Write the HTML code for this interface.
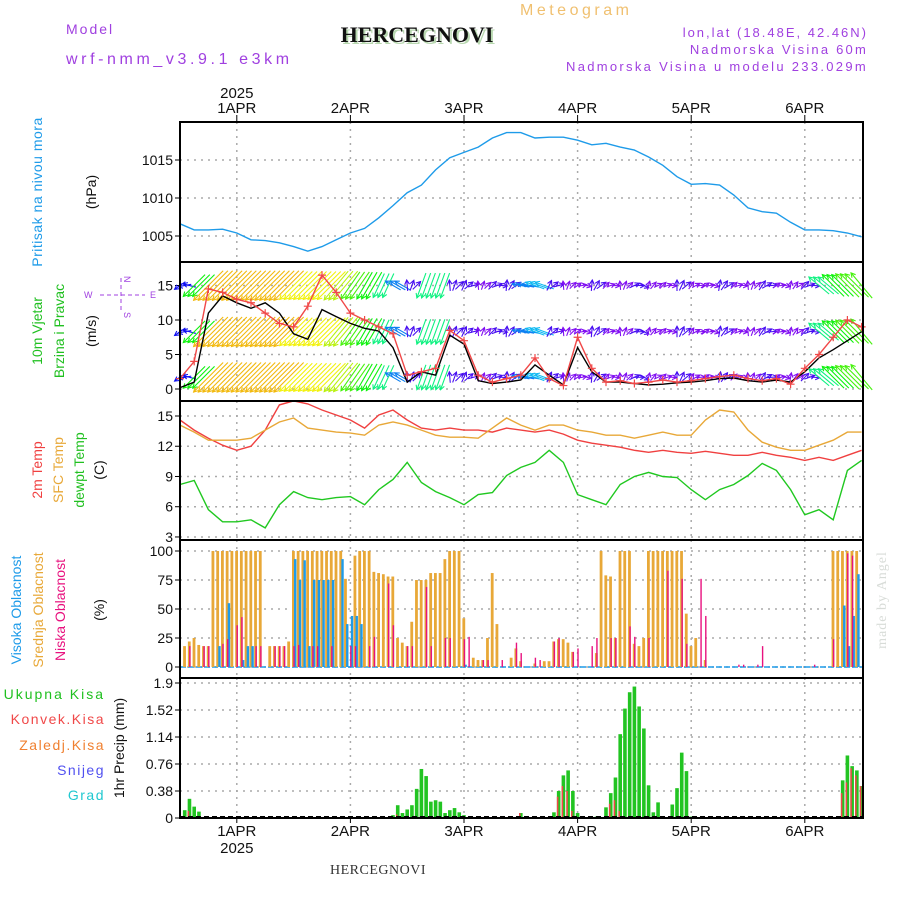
<!DOCTYPE html>
<html><head><meta charset="utf-8"><title>Meteogram HERCEGNOVI</title>
<style>
html,body{margin:0;padding:0;background:#fff;}
svg{display:block;font-family:"Liberation Sans",sans-serif;}
</style></head>
<body>
<svg id="chart" width="900" height="900" viewBox="0 0 900 900" xmlns="http://www.w3.org/2000/svg">
<text x="520" y="15" font-size="16" fill="#f0c070" letter-spacing="3.5">Meteogram</text>
<text x="66" y="34" font-size="14" fill="#a040e0" letter-spacing="2">Model</text>
<text x="66" y="64" font-size="16" fill="#a040e0" letter-spacing="3.6">wrf-nmm_v3.9.1 e3km</text>
<text x="419" y="44" font-size="22" font-weight="bold" font-family="Liberation Serif,serif" fill="#b8d8b0" text-anchor="middle">HERCEGNOVI</text>
<text x="417" y="42" font-size="22" font-weight="bold" font-family="Liberation Serif,serif" fill="#111" text-anchor="middle">HERCEGNOVI</text>
<text x="868" y="37" font-size="13" fill="#a040e0" text-anchor="end" letter-spacing="2">lon,lat (18.48E, 42.46N)</text>
<text x="868" y="54" font-size="13" fill="#a040e0" text-anchor="end" letter-spacing="2.2">Nadmorska Visina 60m</text>
<text x="868" y="71" font-size="13" fill="#a040e0" text-anchor="end" letter-spacing="2.3">Nadmorska Visina u modelu 233.029m</text>
<text x="330" y="874" font-size="14" font-family="Liberation Serif,serif" fill="#333" letter-spacing="0.5">HERCEGNOVI</text>
<text transform="translate(886,600) rotate(-90)" font-size="14" font-family="Liberation Serif,serif" fill="#d8dcd8" text-anchor="middle" letter-spacing="1">made by Angel</text>

<text transform="translate(42,192) rotate(-90)" font-size="14" fill="#1e9be9" text-anchor="middle" letter-spacing="0.5">Pritisak na nivou mora</text>
<text transform="translate(96,192) rotate(-90)" font-size="14" fill="#111" text-anchor="middle">(hPa)</text>

<text transform="translate(42,331) rotate(-90)" font-size="14" fill="#20c020" text-anchor="middle">10m Vjetar</text>
<text transform="translate(64,331) rotate(-90)" font-size="14" fill="#20c020" text-anchor="middle">Brzina i Pravac</text>
<text transform="translate(96,331) rotate(-90)" font-size="14" fill="#111" text-anchor="middle">(m/s)</text>
<g fill="#a040e0" font-size="9">
<text x="84" y="298">W</text>
<text x="150" y="298">E</text>
<text transform="translate(124,276) rotate(90)">N</text>
<text transform="translate(124,312) rotate(90)">S</text>
<line x1="100" y1="295" x2="145" y2="295" stroke="#a040e0" stroke-dasharray="4,3"/>
<line x1="121" y1="278" x2="121" y2="312" stroke="#a040e0" stroke-dasharray="4,3"/>
</g>

<text transform="translate(42,470) rotate(-90)" font-size="14" fill="#f04040" text-anchor="middle">2m Temp</text>
<text transform="translate(63,470) rotate(-90)" font-size="14" fill="#e8a838" text-anchor="middle">SFC Temp</text>
<text transform="translate(84,470) rotate(-90)" font-size="14" fill="#20c020" text-anchor="middle">dewpt Temp</text>
<text transform="translate(104,470) rotate(-90)" font-size="14" fill="#111" text-anchor="middle">(C)</text>

<text transform="translate(21,610) rotate(-90)" font-size="14" fill="#1e9be9" text-anchor="middle">Visoka Oblacnost</text>
<text transform="translate(43,610) rotate(-90)" font-size="14" fill="#e8a838" text-anchor="middle">Srednja Oblacnost</text>
<text transform="translate(65,610) rotate(-90)" font-size="14" fill="#e8127f" text-anchor="middle">Niska Oblacnost</text>
<text transform="translate(104,610) rotate(-90)" font-size="14" fill="#111" text-anchor="middle">(%)</text>

<text x="105" y="699" font-size="14" fill="#20c020" text-anchor="end" letter-spacing="2">Ukupna Kisa</text>
<text x="105" y="724" font-size="14" fill="#f04848" text-anchor="end" letter-spacing="1.5">Konvek.Kisa</text>
<text x="105" y="750" font-size="14" fill="#f08030" text-anchor="end" letter-spacing="1.5">Zaledj.Kisa</text>
<text x="105" y="775" font-size="14" fill="#5050f0" text-anchor="end" letter-spacing="1.5">Snijeg</text>
<text x="105" y="800" font-size="14" fill="#20c8d0" text-anchor="end" letter-spacing="1.5">Grad</text>
<text transform="translate(124,748) rotate(-90)" font-size="14" fill="#111" text-anchor="middle">1hr Precip (mm)</text>
</svg>
<script>
// ---------------- DATA ----------------
const dayLabels = ['1APR','2APR','3APR','4APR','5APR','6APR'];
const yearLabel = '2025';
// 3-hourly series starting Mar31 12Z
const pressure = [1006.6,1005.8,1005.8,1005.9,1005.4,1004.5,1004.4,1004.1,1003.6,1003.0,1003.6,1004.5,1005.4,1006.0,1007.4,1009.0,1010.7,1011.7,1013.7,1015.3,1016.0,1016.7,1017.9,1018.6,1018.6,1017.9,1018.0,1018.0,1017.6,1017.0,1017.2,1016.7,1016.3,1015.4,1014.3,1012.8,1011.8,1011.9,1011.7,1010.4,1008.7,1008.2,1008.0,1006.8,1005.8,1005.8,1005.7,1005.4,1004.9];
const pressureTicks = [1005,1010,1015];
const windSpeed = [0.2,1,11,13.5,12.5,11.7,12.5,11,8,7.2,11.5,10.5,9.5,8.8,8.4,6,1,2.5,2,7.8,6.5,1.2,0.8,1,1.3,3.5,2,0.6,6,2.5,1,1,0.8,0.6,0.7,0.9,1,1.2,1.5,1.6,1.2,1,1.3,1,2.5,4.5,5.7,7,8.3];
const windGust = [1.5,4,14.5,14,13,12.5,11,9.5,9,12,16.5,14,11,10,9,8,2,2.5,3,8.5,7,2,1,1.5,2,4.5,1.5,0.5,7.5,3,1,1.2,0.8,1,1.3,1,1.2,1.5,1.8,2,1.5,1.2,1.5,0.7,3,5,7.5,10,9];
const arrowDir = [80,45,45,45,45,45,45,45,45,45,45,40,35,30,25,120,200,20,20,200,230,200,250,210,100,110,230,200,260,210,250,200,270,220,250,205,240,260,215,250,200,240,260,215,250,130,135,135,140];
const arrowSpd = [6,14,19,19,19,19,19,19,18,18,18,17,15,14,12,8,5,12,12,5,5,4,5,5,8,9,5,4,4,5,4,4,5,4,4,5,4,4,5,4,4,5,4,4,5,12,14,15,15];
const windTicks = [0,5,10,15];
const temp2m = [14.6,13.6,12.8,12.1,11.6,12.0,13.6,16.1,16.5,16.2,15.6,15.1,14.6,13.8,15.1,15.6,14.6,13.8,13.6,13.8,13.6,13.6,13.4,13.8,13.6,13.4,13.6,13.2,12.6,12.3,12.1,11.9,11.6,11.4,11.6,11.4,11.3,11.5,11.3,11.1,11.1,11.4,11.1,10.9,10.6,10.9,10.6,11.1,11.6];
const tempSfc = [14.1,13.4,12.6,12.6,12.6,12.8,13.6,14.4,14.8,13.8,13.6,13.4,13.3,13.1,14.1,14.4,14.1,13.6,13.1,12.9,12.9,12.8,13.8,14.8,14.1,13.6,14.1,14.1,13.6,13.4,13.1,13.1,12.8,13.1,13.4,13.1,13.1,14.6,15.6,15.4,13.6,12.4,11.9,11.6,11.6,12.1,12.6,13.4,13.4];
const tempDew = [8.2,8.6,5.7,4.5,4.5,4.7,3.9,6.2,7.5,6.9,6.7,6.9,7.0,6.2,7.7,8.7,10.4,8.4,7.5,6.9,6.2,7.2,7.4,9.1,9.9,10.4,11.6,10.4,7.2,6.7,6.2,8.2,9.0,9.4,9.0,8.9,7.7,6.7,7.7,8.2,9.1,10.3,9.6,7.7,5.2,5.7,4.7,9.6,10.6];
const tempTicks = [3,6,9,12,15];
// hourly cloud cover (%)
const midCloud = [0,18,22,25,19,18,18,100,100,100, 100,100,100,100,100,100,100,100,0,18, 18,18,18,22,100,100,100,100,100,100, 100,100,100,100,100,76,0,96,100,100, 100,82,81,80,78,78,25,21,18,39, 75,75,75,81,81,81,93,100,100,100, 42,0,8,6,6,25,81,37,0,0, 8,16,5,0,0,3,0,5,5,22, 24,24,21,13,0,0,0,0,12,100, 79,78,25,100,100,100,20,18,25,100, 100,100,100,100,100,100,100,46,18,25, 0,6,0,0,0,0,0,0,0,0, 0,0,0,0,0,0,0,0,0,0, 0,0,0,0,0,0,0,0,100,100, 100,100,100,100,0];
const highHours = [8,10,13,14,15,24,25,26,27,28,29,30,31,32,34,35,36,37,38,60,140,141,142,143];
const highVals  = [18,55,6,18,18,93,75,92,18,75,75,75,75,75,93,37,44,44,37,2,53,18,44,80];
const lowHours = [2,5,6,9,10,12,13,16,17,20,21,22,24,25,28,29,32,36,37,40,41,44,45,48,49,52,53,56,57,60,61,64,65,68,71,72,75,76,79,80,83,84,87,88,91,92,95,96,99,103,106,107,110,111,118,119,122,123,134,138,141,142];
const lowVals  = [18,18,18,20,24,36,43,18,18,18,18,18,18,19,18,18,18,18,18,18,26,72,36,18,18,69,18,25,25,24,26,6,6,6,21,12,8,6,22,25,13,16,18,25,25,25,35,26,25,83,76,20,76,44,2,2,2,18,2,24,98,96];
const cloudTicks = [0,25,50,75,100];
// hourly precipitation (mm)
const precipHours = [1,2,3,4,45,46,47,48,49,50,51,52,53,54,55,56,57,58,59,60,72,79,80,81,82,83,84,88,90,91,92,93,94,95,96,97,98,99,100,101,104,105,106,107,108,140,141,142,143,144];
const precipVals  = [0.11,0.27,0.16,0.09,0.04,0.18,0.07,0.12,0.18,0.41,0.69,0.59,0.23,0.25,0.23,0.07,0.11,0.14,0.08,0.04,0.07,0.08,0.38,0.6,0.67,0.38,0.07,0.02,0.15,0.35,0.57,1.18,1.54,1.77,1.85,1.57,1.26,0.46,0.08,0.22,0.19,0.42,0.92,0.66,0.02,0.53,0.88,0.73,0.67,0.45];
const convHours = [2,46,72,80,81,82,83,91,92,93,140,141,142,143,144];
const convVals  = [0.1,0.05,0.07,0.3,0.45,0.38,0.1,0.2,0.25,0.1,0.35,0.5,0.7,0.6,0.45];
const precipTicks = [0,0.38,0.76,1.14,1.52,1.9];

// ---------------- AXES ----------------
const X0 = 180, X1 = 863, PXH = 113.6/24;
const xH = h => X0 + h*PXH;
const xDay = d => xH(12 + 24*d);
const pY = v => 122 + (1020 - v)*7.6;
const wY = v => 389 - v*6.9;
const tY = v => 416 + (15 - v)*10.08;
const cY = v => 667 - v*1.16;
const rY = v => 818 - v*71.05;
const panels = [[122,262,'pressure'],[262,401,'wind'],[401,540,'temperature'],[540,678,'cloud'],[678,818,'precip']];

const svg = document.getElementById('chart');
const NS = 'http://www.w3.org/2000/svg';
function mk(tag, attrs, parent){ const e=document.createElementNS(NS,tag); for(const k in attrs) e.setAttribute(k,attrs[k]); (parent||svg).appendChild(e); return e; }

panels.forEach(p=>{
  dayLabels.forEach((d,i)=>{
    const g = mk('line',{x1:xDay(i),x2:xDay(i),y1:p[0],y2:p[1],stroke:'#aaa','stroke-width':1.5,'stroke-dasharray':'2,5'});
    
    
  });
});
function hGrid(vals, fy, top, bottom, fmt, name){
  vals.forEach(v=>{
    const y = fy(v);
    if (y > top+2 && y < bottom-2){
      const g = mk('line',{x1:X0,x2:X1,y1:y,y2:y,stroke:'#aaa','stroke-width':1.5,'stroke-dasharray':'2,5'});
      
      
    }
    const t = mk('line',{x1:X0-5,x2:X0,y1:y,y2:y,stroke:'#000','stroke-width':1});
    
    
    const l = mk('text',{x:X0-7,y:y+5,'font-size':14,'text-anchor':'end',fill:'#111'});
    l.textContent = fmt(v);
    
    
  });
}
hGrid(pressureTicks,pY,122,262,v=>v,'pressure-y');
hGrid(windTicks,wY,262,401,v=>v,'wind-y');
hGrid(tempTicks,tY,401,540,v=>v,'temp-y');
hGrid(cloudTicks,cY,540,678,v=>v,'cloud-y');
hGrid(precipTicks,rY,678,818,v=>v,'precip-y');

function line(arr, fy, color, name){
  const pts = arr.map((v,i)=>xH(3*i).toFixed(1)+','+fy(v).toFixed(1)).join(' ');
  const pl = mk('polyline',{points:pts,fill:'none',stroke:color,'stroke-width':1.4});
  
  
}
line(pressure,pY,'#1e9be9','pressure-line');

// wind arrows
const rows = [15, 8.3, 1.7];
const arrowG = mk('g',{});


rows.forEach((rv,ri)=>{
  arrowDir.forEach((d,i)=>{
    const s = arrowSpd[i];
    const hue = Math.max(25, Math.min(275, 330 - s*15));
    const col = 'hsl('+hue+',90%,50%)';
    for(let k=0;k<3;k++){
      const h = 3*i + k;
      if (h > 144) continue;
      const dd = d + (s < 7 ? (k-1)*25 : 0);
      const to = (dd+180)*Math.PI/180;
      const L = s*2.2;
      const dx = Math.sin(to)*L, dy = -Math.cos(to)*L;
      const cx = xH(h), cy = wY(rv);
      const x1 = cx - dx/2, y1 = cy - dy/2, x2 = cx + dx/2, y2 = cy + dy/2;
      const a = mk('line',{x1:x1,y1:y1,x2:x2,y2:y2,stroke:col,'stroke-width':1.1},arrowG);
      
      
      const ang = Math.atan2(dy,dx);
      const hd = 'M'+(x2-5*Math.cos(ang-0.5))+','+(y2-5*Math.sin(ang-0.5))+' L'+x2+','+y2+' L'+(x2-5*Math.cos(ang+0.5))+','+(y2-5*Math.sin(ang+0.5));
      const p = mk('path',{d:hd,fill:'none',stroke:col,'stroke-width':1.1},arrowG);
      
      
    }
  });
});
line(windSpeed,wY,'#000','wind-speed-line');
line(windGust,wY,'#f04848','wind-gust-line');
windGust.forEach((v,i)=>{
  const x = xH(3*i), y = wY(v);
  const c = mk('path',{d:'M'+(x-4)+','+y+' H'+(x+4)+' M'+x+','+(y-4)+' V'+(y+4),stroke:'#f04848','stroke-width':1.2});
  
  
});

line(temp2m,tY,'#f04040','temp-2m-line');
line(tempSfc,tY,'#e8a838','temp-sfc-line');
line(tempDew,tY,'#20c820','dewpoint-line');

const base = mk('line',{x1:X0,x2:X1,y1:cY(0),y2:cY(0),stroke:'#1e9be9','stroke-width':1.5,'stroke-dasharray':'6,2'});


midCloud.forEach((v,h)=>{
  if(!v) return;
  const r = mk('rect',{x:xH(h)-1.6,y:cY(v),width:2.8,height:cY(0)-cY(v),fill:'#e8a838'});
  
  
});
highHours.forEach((h,i)=>{
  const v = highVals[i];
  const r = mk('rect',{x:xH(h)+0.4,y:cY(v),width:2.4,height:cY(0)-cY(v),fill:'#1e9be9'});
  
  
});
lowHours.forEach((h,i)=>{
  const v = lowVals[i];
  const r = mk('rect',{x:xH(h)-0.3,y:cY(v),width:1.4,height:cY(0)-cY(v),fill:'#e8127f'});
  
  
});

precipHours.forEach((h,i)=>{
  const v = precipVals[i];
  const r = mk('rect',{x:xH(h)-1.8,y:rY(v),width:3.6,height:rY(0)-rY(v),fill:'#22c422'});
  
  
});
convHours.forEach((h,i)=>{
  const v = convVals[i];
  const r = mk('rect',{x:xH(h)-1.8,y:rY(v),width:1.5,height:rY(0)-rY(v),fill:'#f04848'});
  
  
});
const pb = mk('line',{x1:X0,x2:X1,y1:817,y2:817,stroke:'#000','stroke-width':2,'stroke-dasharray':'5,3'});



panels.forEach(p=>{
  const r = mk('rect',{x:X0,y:p[0],width:X1-X0,height:p[1]-p[0],fill:'none',stroke:'#000','stroke-width':2});
  
  
});

dayLabels.forEach((d,i)=>{
  const x = xDay(i);
  const t1 = mk('text',{x:x,y:113,'font-size':15,'text-anchor':'middle',fill:'#111'});
  t1.textContent = d;
  
  
  const tk = mk('line',{x1:x,x2:x,y1:115,y2:122,stroke:'#000'});
  
  
  const t2 = mk('text',{x:x,y:836,'font-size':15,'text-anchor':'middle',fill:'#111'});
  t2.textContent = d;
  
  
  const tk2 = mk('line',{x1:x,x2:x,y1:818,y2:823,stroke:'#000'});
  
  
});
const y1 = mk('text',{x:xDay(0),y:98,'font-size':15,'text-anchor':'middle',fill:'#111'});
y1.textContent = yearLabel;


const y2 = mk('text',{x:xDay(0),y:853,'font-size':15,'text-anchor':'middle',fill:'#111'});
y2.textContent = yearLabel;


</script>
</body></html>
